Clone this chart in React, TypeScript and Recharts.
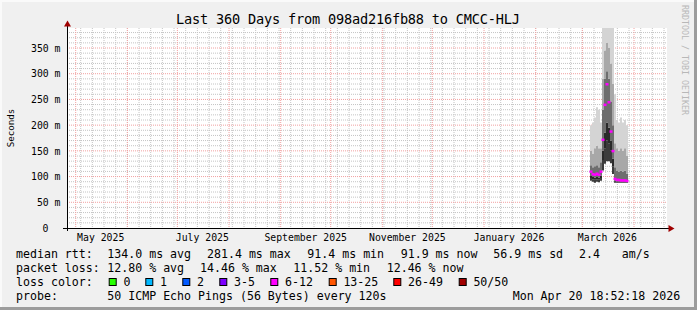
import React from 'react';
import { ComposedChart, Area, Scatter, XAxis, YAxis, CartesianGrid } from 'recharts';

// ---- time frame (graph covers last 360 days ending Mon Apr 20 18:52:18 2026) ----
const GRAPH_START = Date.UTC(2025, 3, 25, 18, 52, 18);
const SPAN_DAYS = 360;
const DAY_MS = 86400000;
const dayOf = (y: number, m: number, d: number) => (Date.UTC(y, m, d) - GRAPH_START) / DAY_MS;

// ---- axis labels ----
const xTickMonths: [number, number][] = [[2025, 4], [2025, 6], [2025, 8], [2025, 10], [2026, 0], [2026, 2]];
const xTickLabels = ['May 2025', 'July 2025', 'September 2025', 'November 2025', 'January 2026', 'March 2026'];
const yTicks = [0, 50, 100, 150, 200, 250, 300, 350];
const Y_MAX = 388.9;

// ---- samples (start of each consolidated column, days since graph start) ----
const sampleDays = [313.8, 315.0, 316.2, 317.4, 318.6, 319.8, 321.0, 322.2, 323.4, 324.6, 325.8, 327.0, 328.2, 329.4, 330.6, 331.8, 333.0, 334.2, 335.4];
const sampleEndDay = 336.6;

// smoke quantiles (ms)
const smokeMin = [92, 90, 88, 90, 89, 92, 112, 125, 130, 130, 126, 105, 88, 88, 88, 88, 88, 88, 88];
const smokeQ20 = [97, 95, 94, 95, 94, 97, 132, 155, 170, 165, 150, 120, 90, 90, 90, 90, 90, 90, 90];
const smokeQ40 = [101, 99, 98, 99, 98, 102, 150, 185, 205, 195, 170, 135, 92, 91, 91, 91, 91, 91, 91];
const medianRtt = [110, 105, 104, 106, 104, 110, 172, 240, 280, 245, 188, 150, 96, 94, 94, 93, 93, 93, 92];
const smokeQ60 = [122, 118, 120, 122, 118, 128, 230, 290, 305, 290, 245, 200, 118, 112, 110, 112, 110, 112, 106];
const smokeQ80 = [150, 145, 155, 160, 155, 155, 290, 345, 360, 350, 320, 280, 165, 155, 150, 155, 150, 155, 140];
const smokeMax = [200, 205, 215, 235, 230, 205, 420, 420, 420, 420, 420, 400, 260, 210, 205, 215, 205, 210, 200];

// ---- legend content ----
const rttStats = [
  { x: 107.3, t: '134.0 ms avg' },
  { x: 207, t: '281.4 ms max' },
  { x: 307.3, t: '91.4 ms min' },
  { x: 400.7, t: '91.9 ms now' },
  { x: 493.3, t: '56.9 ms sd' },
  { x: 579, t: '2.4' },
  { x: 621.7, t: 'am/s' },
];
const lossStats = [
  { x: 107.3, t: '12.80 % avg' },
  { x: 200, t: '14.46 % max' },
  { x: 293.3, t: '11.52 % min' },
  { x: 386.7, t: '12.46 % now' },
];
const lossLabels = ['0', '1', '2', '3-5', '6-12', '13-25', '26-49', '50/50'];
const lossColors = ['#26ff00', '#00b8ff', '#0059ff', '#7e00ff', '#ff00ff', '#ff5500', '#ff0000', '#a10000'];
const lossBoxX = [108.7, 145.3, 182.3, 219.3, 270.3, 328.7, 393.3, 458.7];

// ---- derived tables ----
const xTickValues = xTickMonths.map(([y, m]) => dayOf(y, m, 1) + 15);
const monthLines: number[] = [];
for (let y = 2025, m = 4; y < 2026 || m <= 3; m++) {
  if (m > 11) { m = 0; y++; }
  monthLines.push(dayOf(y, m, 1));
  if (y === 2026 && m === 3) break;
}
const weekLines: number[] = [];
for (let d = dayOf(2025, 4, 4); d < SPAN_DAYS; d += 7) weekLines.push(d);
const minorY: number[] = [];
for (let v = 10; v < Y_MAX; v += 10) if (v % 50 !== 0) minorY.push(v);
const majorY = yTicks.filter((v) => v > 0);

const smokeRow = (d: number, i: number) => ({
  d,
  base: smokeMin[i],
  b1: smokeQ20[i] - smokeMin[i],
  b2: smokeQ40[i] - smokeQ20[i],
  b3: smokeQ60[i] - smokeQ40[i],
  b4: smokeQ80[i] - smokeQ60[i],
  b5: smokeMax[i] - smokeQ80[i],
});
const smokeTable = [...sampleDays.map((d, i) => smokeRow(d, i)), smokeRow(sampleEndDay, sampleDays.length - 1)];
const medianPoints = sampleDays.map((d, i) => ({ d: d + 0.6, med: medianRtt[i] }));

const MONO = 'DejaVu Sans Mono';

const XTick = (props: any) => {
  const idx = xTickValues.findIndex((v) => Math.abs(v - props.payload.value) < 1e-6);
  return (
    <text x={props.x} y={240.7} textAnchor="middle" fontFamily={MONO} fontSize={9.8} fill="#000">
      {idx >= 0 ? xTickLabels[idx] : ''}
    </text>
  );
};

const YTick = (props: any) => {
  const v = props.payload.value;
  return (
    <text x={v === 0 ? 48.5 : 60.5} y={props.y + 3.7} textAnchor="end" fontFamily={MONO} fontSize={9.8} fill="#000">
      {v === 0 ? '0' : `${v} m`}
    </text>
  );
};

const MedianMark = (props: any) => (
  <rect x={props.cx - 1.5} y={props.cy - 1} width={3} height={2.5} fill="#ff00ff" />
);

const legendText = (x: number, y: number, t: string, key?: string) => (
  <text key={key} x={x} y={y} fontFamily={MONO} fontSize={11.6} fill="#000" style={{ whiteSpace: 'pre' }}>
    {t}
  </text>
);

export default function App() {
  return (
    <div style={{ position: 'absolute', left: 0, top: 0, width: 697, height: 310, background: '#f0f0f0', overflow: 'hidden' }}>
      <ComposedChart
        width={697}
        height={310}
        data={smokeTable}
        margin={{ top: 28, right: 30, bottom: 62, left: 0 }}
      >
        <CartesianGrid
          fill="#ffffff"
          stroke="#c4c4c4"
          strokeDasharray="1 1"
          horizontalValues={minorY}
          verticalValues={weekLines}
        />
        <CartesianGrid
          stroke="#f2a0a0"
          strokeDasharray="1 1"
          horizontalValues={majorY}
          verticalValues={monthLines}
        />
        <XAxis
          dataKey="d"
          type="number"
          domain={[0, SPAN_DAYS]}
          ticks={xTickValues}
          allowDataOverflow
          axisLine={false}
          tickLine={false}
          height={20}
          tick={<XTick />}
          interval={0}
        />
        <YAxis
          type="number"
          domain={[0, Y_MAX]}
          ticks={yTicks}
          allowDataOverflow
          axisLine={false}
          tickLine={false}
          width={67}
          tick={<YTick />}
          interval={0}
        />
        <Area dataKey="base" stackId="s" type="stepAfter" stroke="none" fill="#ffffff" fillOpacity={0} isAnimationActive={false} dot={false} activeDot={false} />
        <Area dataKey="b1" stackId="s" type="stepAfter" stroke="none" fill="#3c3c3c" fillOpacity={1} isAnimationActive={false} dot={false} activeDot={false} />
        <Area dataKey="b2" stackId="s" type="stepAfter" stroke="none" fill="#2a2a2a" fillOpacity={1} isAnimationActive={false} dot={false} activeDot={false} />
        <Area dataKey="b3" stackId="s" type="stepAfter" stroke="none" fill="#6e6e6e" fillOpacity={1} isAnimationActive={false} dot={false} activeDot={false} />
        <Area dataKey="b4" stackId="s" type="stepAfter" stroke="none" fill="#a8a8a8" fillOpacity={1} isAnimationActive={false} dot={false} activeDot={false} />
        <Area dataKey="b5" stackId="s" type="stepAfter" stroke="none" fill="#d4d4d4" fillOpacity={1} isAnimationActive={false} dot={false} activeDot={false} />
        <Scatter data={medianPoints} dataKey="med" shape={<MedianMark />} isAnimationActive={false} />
      </ComposedChart>

      <svg width={697} height={310} style={{ position: 'absolute', left: 0, top: 0, pointerEvents: 'none' }}>
        {/* frame */}
        <rect x={0} y={0} width={697} height={2} fill="#fafafa" />
        <rect x={0} y={0} width={2} height={310} fill="#fafafa" />
        <rect x={0} y={307} width={697} height={3} fill="#9c9c9c" />
        <rect x={694} y={0} width={3} height={310} fill="#9c9c9c" />

        {/* title */}
        <text x={176} y={23.5} fontFamily={MONO} fontSize={13.6} fill="#000" textLength={344} lengthAdjust="spacing">
          Last 360 Days from 098ad216fb88 to CMCC-HLJ
        </text>

        {/* vertical unit label */}
        <text x={0} y={0} transform="translate(13.5,128) rotate(-90)" textAnchor="middle" fontFamily={MONO} fontSize={9.2} fill="#000">
          Seconds
        </text>

        {/* watermark */}
        <text x={0} y={0} transform="translate(682,5) rotate(90)" fontFamily={MONO} fontSize={8.3} fill="#b8b8b8">
          RRDTOOL / TOBI OETIKER
        </text>

        {/* axes */}
        <line x1={67.5} y1={231} x2={67.5} y2={25} stroke="#000" strokeWidth={1} />
        <polygon points="64,26.5 71,26.5 67.5,20.5" fill="#a00000" />
        <line x1={63} y1={228.5} x2={670} y2={228.5} stroke="#000" strokeWidth={1} />
        <polygon points="668.5,225 668.5,232 674.5,228.5" fill="#a00000" />

        {/* legend rows */}
        {legendText(16, 257.7, 'median rtt:')}
        {rttStats.map((s, i) => legendText(s.x, 257.7, s.t, 'r' + i))}
        {legendText(16, 271.7, 'packet loss:')}
        {lossStats.map((s, i) => legendText(s.x, 271.7, s.t, 'l' + i))}
        {legendText(16, 285.7, 'loss color:')}
        {lossLabels.map((lab, i) => (
          <g key={'c' + i}>
            <rect x={lossBoxX[i] + 0.5} y={278.5} width={7} height={7} fill={lossColors[i]} stroke="#000" strokeWidth={1} />
            {legendText(lossBoxX[i] + 14.7, 285.7, lab)}
          </g>
        ))}
        {legendText(16, 299.5, 'probe:')}
        {legendText(107.3, 299.5, '50 ICMP Echo Pings (56 Bytes) every 120s')}
        {legendText(512.7, 299.5, 'Mon Apr 20 18:52:18 2026')}
      </svg>
    </div>
  );
}
